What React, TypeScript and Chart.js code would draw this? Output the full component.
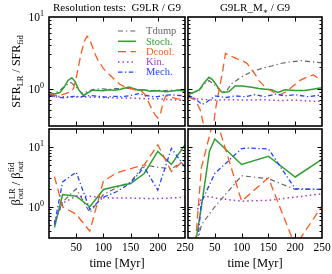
import React, { useEffect, useRef } from "react";
import { Chart, registerables } from "chart.js";

Chart.register(...registerables);

const W = 332;
const H = 274;
const FONT = "'Liberation Serif', 'DejaVu Serif', serif";

// ---------------- series styling ----------------
const SERIES = ["Tdump", "Stoch.", "Dcool.", "Kin.", "Mech."];
const COLORS = ["#666666", "#2f9f2f", "#ff5a1e", "#a03cc8", "#2244ff"];
const DASHES = [[5, 3, 1.3, 3], [], [8, 4.5], [1.5, 3], [4.5, 2.5, 1.3, 2.5]];
const WIDTHS = [1.2, 1.5, 1.3, 1.5, 1.3];

// ---------------- axes ----------------
const X_MIN = 0;
const X_MAX = 250;
const X_TICKS = [50, 100, 150, 200, 250];
const Y_MAJOR = [1, 10];
const Y_MAJOR_EXP = ["0", "1"];
const SFR_YMIN = 0.3;
const SFR_YMAX = 10;
const BETA_YMIN = 0.3;
const BETA_YMAX = 20;

// ---------------- (a) SFR ratio, G9LR / G9 ----------------
const A_TDUMP_T = [0, 10, 20, 30, 40, 50, 60, 70, 80, 90, 100, 110, 120, 130, 140, 150, 160, 170, 180, 190, 200, 210, 220, 230, 240, 250];
const A_TDUMP_V = [0.83, 0.86, 0.95, 1.1, 1.22, 1.05, 0.86, 0.9, 0.97, 0.98, 0.99, 0.97, 1.0, 1.0, 1.02, 1.0, 0.98, 0.96, 0.95, 0.94, 0.95, 0.93, 0.95, 0.94, 0.96, 0.95];
const A_STOCH_T = [0, 10, 20, 28, 35, 42, 48, 55, 63, 70, 80, 90, 100, 110, 120, 130, 140, 147, 155, 165, 175, 185, 200, 215, 230, 240, 250];
const A_STOCH_V = [0.82, 0.84, 0.88, 1.05, 1.3, 1.42, 1.25, 0.95, 0.8, 0.86, 0.95, 0.94, 0.93, 0.96, 0.95, 0.97, 1.02, 1.05, 1.0, 0.95, 0.96, 0.92, 0.93, 0.9, 0.93, 0.95, 0.92];
const A_DCOOL_T = [0, 10, 20, 30, 40, 45, 50, 55, 60, 65, 70, 75, 80, 85, 90, 95, 100, 110, 120, 130, 140, 150, 160, 170, 175, 180, 185, 190, 195, 200, 205, 210, 215, 225, 235, 250];
const A_DCOOL_V = [0.82, 0.8, 0.8, 0.85, 0.9, 1.0, 1.4, 2.2, 3.3, 4.6, 5.4, 4.8, 3.8, 3.0, 2.5, 2.2, 1.9, 1.6, 1.35, 1.15, 1.05, 1.0, 0.95, 0.92, 0.85, 0.72, 0.6, 0.5, 0.43, 0.39, 0.45, 0.65, 0.8, 0.76, 0.72, 0.72];
const A_KIN_T = [0, 25, 50, 75, 100, 125, 150, 175, 200, 225, 250];
const A_KIN_V = [0.78, 0.77, 0.76, 0.76, 0.75, 0.74, 0.74, 0.72, 0.72, 0.7, 0.68];
const A_MECH_T = [0, 15, 30, 45, 60, 75, 90, 105, 120, 135, 150, 165, 180, 195, 210, 225, 240, 250];
const A_MECH_V = [0.8, 0.76, 0.74, 0.78, 0.77, 0.8, 0.78, 0.76, 0.78, 0.77, 0.8, 0.85, 0.8, 0.76, 0.8, 0.82, 0.8, 0.79];

// ---------------- (b) SFR ratio, G9LR_M* / G9 ----------------
const B_TDUMP_T = [0, 10, 21, 30, 39, 51, 64, 73, 82, 101, 119, 138, 156, 175, 193, 212, 230, 246, 250];
const B_TDUMP_V = [0.83, 0.87, 0.95, 1.15, 1.3, 1.1, 0.88, 0.95, 1.18, 1.47, 1.72, 1.92, 2.07, 2.26, 2.37, 2.45, 2.37, 2.3, 2.3];
const B_STOCH_T = [0, 10, 21, 30, 39, 45, 51, 58, 64, 76, 88, 101, 119, 132, 144, 156, 168, 181, 199, 218, 233, 246, 250];
const B_STOCH_V = [0.84, 0.88, 0.96, 1.2, 1.44, 1.35, 1.18, 0.98, 0.88, 0.9, 1.09, 1.09, 1.04, 1.0, 0.98, 0.96, 0.88, 0.96, 0.94, 0.94, 0.98, 1.02, 1.02];
const B_DCOOL_T = [0, 14, 23, 29, 35, 42, 48, 51, 57, 64, 70, 82, 92, 104, 110, 126, 132, 141, 150, 162, 172, 184, 197, 209, 222, 234, 249, 250];
const B_DCOOL_V = [0.77, 0.69, 0.5, 0.31, 0.2, 0.18, 0.32, 0.5, 0.87, 1.65, 3.1, 2.8, 2.6, 2.4, 2.25, 1.55, 1.3, 1.1, 0.98, 0.87, 0.82, 0.91, 1.1, 1.3, 1.45, 1.55, 1.3, 1.28];
const B_KIN_T = [0, 20, 51, 80, 110, 140, 170, 200, 230, 250];
const B_KIN_V = [0.76, 0.71, 0.69, 0.7, 0.69, 0.7, 0.68, 0.69, 0.67, 0.66];
const B_MECH_T = [0, 14, 26, 35, 51, 70, 88, 107, 125, 144, 163, 181, 199, 224, 246, 250];
const B_MECH_V = [0.81, 0.72, 0.6, 0.65, 0.79, 0.75, 0.79, 0.77, 0.82, 0.77, 0.84, 0.79, 0.82, 0.77, 0.81, 0.8];

// ---------------- (c) beta ratio, G9LR / G9 ----------------
const C_T = [10, 25, 50, 75, 100, 125, 150, 175, 200, 225, 250];
const C_TDUMP_V = [0.55, 1.2, 2.0, 0.8, 1.6, 2.1, 2.6, 5.0, 4.6, 4.3, 6.0];
const C_STOCH_V = [0.45, 1.6, 1.5, 1.0, 1.95, 2.2, 2.45, 3.6, 8.45, 5.1, 10.9];
const C_DCOOL_V = [3.2, 1.0, 0.75, 0.39, 2.7, 3.7, 4.35, 5.0, 10.9, 3.9, 6.2];
const C_KIN_V = [0.55, 1.15, 1.5, 1.5, 1.42, 1.4, 1.4, 1.38, 1.37, 1.4, 1.45];
const C_MECH_V = [0.5, 2.6, 3.8, 0.9, 1.45, 1.8, 2.5, 4.6, 1.9, 9.5, 4.6];

// ---------------- (d) beta ratio, G9LR_M* / G9 ----------------
const D_TDUMP_T = [18, 25, 50, 100, 150, 200, 250];
const D_TDUMP_V = [0.25, 0.5, 1.0, 3.3, 2.95, 1.95, 1.95];
const D_STOCH_T = [10, 25, 40, 50, 100, 150, 200, 250];
const D_STOCH_V = [0.15, 1.0, 8.5, 13.6, 5.1, 7.0, 3.15, 6.2];
const D_DCOOL_T = [12, 25, 50, 100, 150, 200, 250];
const D_DCOOL_V = [0.15, 4.5, 35, 1.24, 3.05, 0.22, 1.03];
const D_KIN_T = [18, 25, 40, 50, 100, 150, 200, 250];
const D_KIN_V = [0.9, 1.4, 1.5, 1.4, 1.24, 1.28, 1.45, 1.65];
const D_MECH_T = [18, 25, 50, 100, 110, 150, 200, 250];
const D_MECH_V = [0.25, 1.2, 3.6, 9.4, 9.6, 9.3, 2.0, 1.95];

// ---------------- text ----------------
type Seg = { t?: string; s: number; dy?: number; sup?: string; sub?: string; supDy?: number; subDy?: number };

const TITLE_LEFT: Seg[] = [{ t: "Resolution tests:  G9LR / G9", s: 11 }];
const TITLE_RIGHT: Seg[] = [
  { t: "G9LR_M", s: 11 },
  { t: "\u2217", s: 8, dy: 2.5 },
  { t: " / G9", s: 11 },
];
const YLABEL_SFR: Seg[] = [
  { t: "SFR", s: 12 },
  { t: "LR", s: 8.5, dy: 2.5 },
  { t: " / SFR", s: 12 },
  { t: "fid", s: 8.5, dy: 2.5 },
];
const YLABEL_BETA: Seg[] = [
  { t: "\u03b2", s: 12.5 },
  { sup: "LR", sub: "out", s: 8.5, supDy: -5.5, subDy: 3 },
  { t: " / \u03b2", s: 12.5 },
  { sup: "fid", sub: "out", s: 8.5, supDy: -6, subDy: 3 },
];
const XLABEL = "time [Myr]";

type Panel = {
  box: [number, number, number, number];
  ymin: number;
  ymax: number;
  series: [number[], number[]][];
  yTickLabels: boolean;
  xTickLabels: boolean;
  title: Seg[];
  ylabel: Seg[] | null;
  legend: boolean;
};

const LEFT_X0 = 49, LEFT_X1 = 185, RIGHT_X0 = 188, RIGHT_X1 = 322;
const TOP_Y0 = 17, TOP_Y1 = 126, BOT_Y0 = 129, BOT_Y1 = 238;

const PANELS: Panel[] = [
  {
    box: [LEFT_X0, TOP_Y0, LEFT_X1, TOP_Y1], ymin: SFR_YMIN, ymax: SFR_YMAX,
    series: [[A_TDUMP_T, A_TDUMP_V], [A_STOCH_T, A_STOCH_V], [A_DCOOL_T, A_DCOOL_V], [A_KIN_T, A_KIN_V], [A_MECH_T, A_MECH_V]],
    yTickLabels: true, xTickLabels: false, title: TITLE_LEFT, ylabel: YLABEL_SFR, legend: true,
  },
  {
    box: [RIGHT_X0, TOP_Y0, RIGHT_X1, TOP_Y1], ymin: SFR_YMIN, ymax: SFR_YMAX,
    series: [[B_TDUMP_T, B_TDUMP_V], [B_STOCH_T, B_STOCH_V], [B_DCOOL_T, B_DCOOL_V], [B_KIN_T, B_KIN_V], [B_MECH_T, B_MECH_V]],
    yTickLabels: false, xTickLabels: false, title: TITLE_RIGHT, ylabel: null, legend: false,
  },
  {
    box: [LEFT_X0, BOT_Y0, LEFT_X1, BOT_Y1], ymin: BETA_YMIN, ymax: BETA_YMAX,
    series: [[C_T, C_TDUMP_V], [C_T, C_STOCH_V], [C_T, C_DCOOL_V], [C_T, C_KIN_V], [C_T, C_MECH_V]],
    yTickLabels: true, xTickLabels: true, title: [], ylabel: YLABEL_BETA, legend: false,
  },
  {
    box: [RIGHT_X0, BOT_Y0, RIGHT_X1, BOT_Y1], ymin: BETA_YMIN, ymax: BETA_YMAX,
    series: [[D_TDUMP_T, D_TDUMP_V], [D_STOCH_T, D_STOCH_V], [D_DCOOL_T, D_DCOOL_V], [D_KIN_T, D_KIN_V], [D_MECH_T, D_MECH_V]],
    yTickLabels: false, xTickLabels: true, title: [], ylabel: null, legend: false,
  },
];

function segWidth(ctx: CanvasRenderingContext2D, seg: Seg) {
  ctx.font = `${seg.s}px ${FONT}`;
  if (seg.sup !== undefined || seg.sub !== undefined) {
    return Math.max(ctx.measureText(seg.sup || "").width, ctx.measureText(seg.sub || "").width);
  }
  return ctx.measureText(seg.t || "").width;
}

function drawRich(ctx: CanvasRenderingContext2D, segs: Seg[], x: number, y: number, align: "left" | "center" | "right") {
  const widths = segs.map((s) => segWidth(ctx, s));
  const total = widths.reduce((a, b) => a + b, 0);
  let cx = align === "center" ? x - total / 2 : align === "right" ? x - total : x;
  ctx.textAlign = "left";
  ctx.textBaseline = "alphabetic";
  segs.forEach((s, i) => {
    ctx.font = `${s.s}px ${FONT}`;
    if (s.sup !== undefined || s.sub !== undefined) {
      if (s.sup) ctx.fillText(s.sup, cx, y + (s.supDy || 0));
      if (s.sub) ctx.fillText(s.sub, cx, y + (s.subDy || 0));
    } else {
      ctx.fillText(s.t || "", cx, y + (s.dy || 0));
    }
    cx += widths[i];
  });
}

function panelPlugin(p: Panel) {
  return {
    id: "panelDecor",
    afterDraw(chart: any) {
      const ctx: CanvasRenderingContext2D = chart.ctx;
      const a = chart.chartArea;
      const xs = chart.scales.x;
      const ys = chart.scales.y;
      ctx.save();
      ctx.strokeStyle = "#000";
      ctx.fillStyle = "#000";
      ctx.lineWidth = 1;
      ctx.setLineDash([]);
      // x ticks (inward, top and bottom)
      X_TICKS.forEach((t) => {
        if (t <= X_MIN || t >= X_MAX) return;
        const px = Math.round(xs.getPixelForValue(t)) + 0.5;
        ctx.beginPath();
        ctx.moveTo(px, a.bottom);
        ctx.lineTo(px, a.bottom - 4.5);
        ctx.moveTo(px, a.top);
        ctx.lineTo(px, a.top + 4.5);
        ctx.stroke();
      });
      // y ticks (log, inward, left and right)
      const d0 = Math.floor(Math.log10(p.ymin));
      const d1 = Math.ceil(Math.log10(p.ymax));
      for (let d = d0; d <= d1; d++) {
        for (let m = 1; m <= 9; m++) {
          const v = m * Math.pow(10, d);
          if (v <= p.ymin * 1.0001 || v >= p.ymax * 0.9999) continue;
          const py = Math.round(ys.getPixelForValue(v)) + 0.5;
          const len = m === 1 ? 4.5 : 2.5;
          ctx.beginPath();
          ctx.moveTo(a.left, py);
          ctx.lineTo(a.left + len, py);
          ctx.moveTo(a.right, py);
          ctx.lineTo(a.right - len, py);
          ctx.stroke();
        }
      }
      // frame
      ctx.lineWidth = 1.6;
      ctx.strokeRect(a.left, a.top, a.right - a.left, a.bottom - a.top);

      // y tick labels
      if (p.yTickLabels) {
        Y_MAJOR.forEach((v, i) => {
          const py = ys.getPixelForValue(v);
          drawRich(ctx, [{ t: "10", s: 11.5 }, { t: Y_MAJOR_EXP[i], s: 8, dy: -5 }], a.left - 5, py + 4, "right");
        });
      }
      // x tick labels
      if (p.xTickLabels) {
        X_TICKS.forEach((t) => {
          const px = xs.getPixelForValue(t);
          drawRich(ctx, [{ t: String(t), s: 11.5 }], px, a.bottom + 12.5, "center");
        });
        drawRich(ctx, [{ t: XLABEL, s: 12.5 }], (a.left + a.right) / 2, 267, "center");
      }
      // title
      if (p.title.length) {
        drawRich(ctx, p.title, (a.left + a.right) / 2, 11, "center");
      }
      // y label
      if (p.ylabel) {
        ctx.save();
        ctx.translate(20, (a.top + a.bottom) / 2);
        ctx.rotate(-Math.PI / 2);
        drawRich(ctx, p.ylabel, 0, 0, "center");
        ctx.restore();
      }
      // legend
      if (p.legend) {
        SERIES.forEach((name, i) => {
          const y = 31 + i * 10.3;
          ctx.save();
          ctx.strokeStyle = COLORS[i];
          ctx.lineWidth = WIDTHS[i];
          ctx.setLineDash(DASHES[i]);
          ctx.beginPath();
          ctx.moveTo(118, y);
          ctx.lineTo(136, y);
          ctx.stroke();
          ctx.restore();
          ctx.fillStyle = COLORS[i];
          ctx.font = `10.5px ${FONT}`;
          ctx.textAlign = "left";
          ctx.textBaseline = "middle";
          ctx.fillText(name, 146, y + 0.5);
        });
      }
      ctx.restore();
    },
  };
}

function buildConfig(p: Panel): any {
  const [l, t, r, b] = p.box;
  return {
    type: "line",
    data: {
      datasets: p.series.map(([ts, vs], i) => ({
        label: SERIES[i],
        data: ts.map((x, k) => ({ x, y: vs[k] })),
        borderColor: COLORS[i],
        backgroundColor: COLORS[i],
        borderWidth: WIDTHS[i],
        borderDash: DASHES[i],
        pointRadius: 0,
        fill: false,
        tension: 0,
        order: 10 - i,
        clip: 0,
      })),
    },
    options: {
      responsive: false,
      animation: false,
      devicePixelRatio: 1,
      events: [],
      layout: { padding: { left: l, top: t, right: W - r, bottom: H - b } },
      plugins: { legend: { display: false }, tooltip: { enabled: false }, title: { display: false } },
      scales: {
        x: { type: "linear", min: X_MIN, max: X_MAX, display: false },
        y: { type: "logarithmic", min: p.ymin, max: p.ymax, display: false },
      },
    },
    plugins: [panelPlugin(p)],
  };
}

export default function App() {
  const refs = useRef<(HTMLCanvasElement | null)[]>([]);
  useEffect(() => {
    const charts = PANELS.map((p, i) => new Chart(refs.current[i] as HTMLCanvasElement, buildConfig(p)));
    return () => charts.forEach((c) => c.destroy());
  }, []);
  return (
    <div style={{ position: "fixed", left: 0, top: 0, width: W, height: H, background: "#fff" }}>
      {PANELS.map((_, i) => (
        <canvas
          key={i}
          ref={(el) => {
            refs.current[i] = el;
          }}
          width={W}
          height={H}
          style={{ position: "absolute", left: 0, top: 0, width: W, height: H }}
        />
      ))}
    </div>
  );
}
